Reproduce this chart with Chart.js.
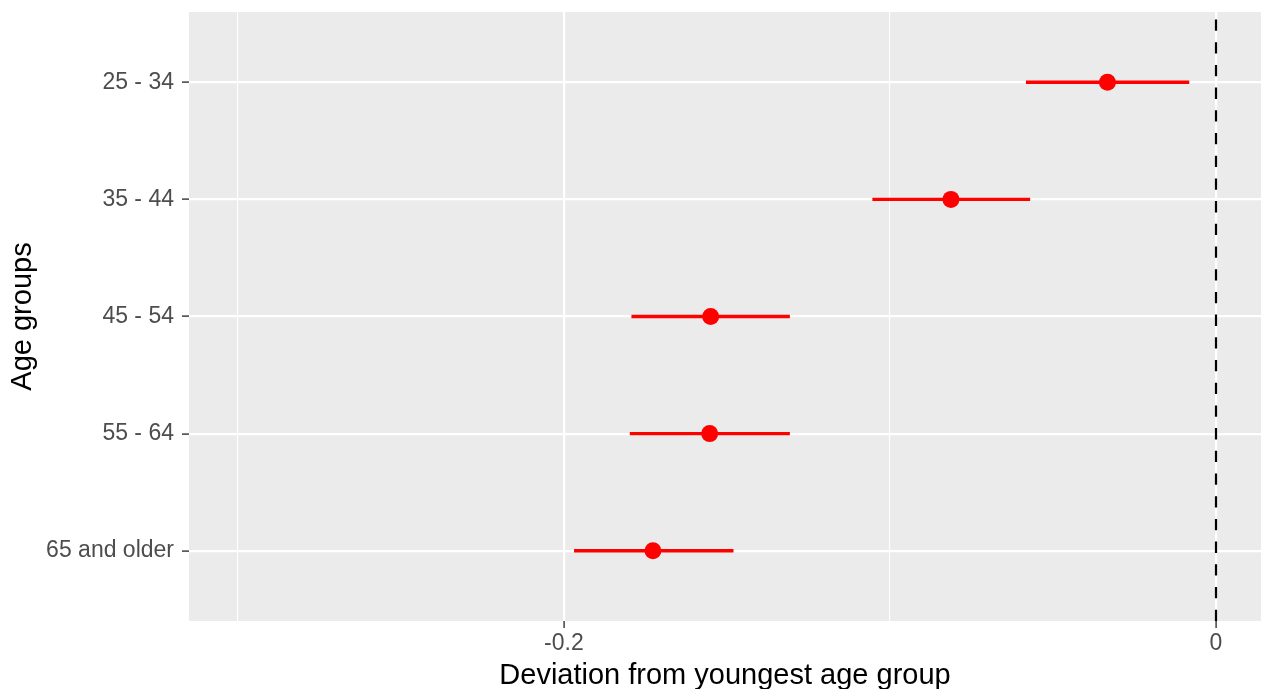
<!DOCTYPE html>
<html>
<head>
<meta charset="utf-8">
<script src="https://cdn.jsdelivr.net/npm/chart.js@4/dist/chart.umd.min.js"></script>
<style>
  html, body { margin: 0; padding: 0; background: #ffffff; overflow: hidden; }
  canvas { display: block; }
</style>
</head>
<body>
<canvas id="chart" width="1261" height="700"></canvas>
<script>
// Age groups, top to bottom
const ageGroups = ['25 - 34', '35 - 44', '45 - 54', '55 - 64', '65 and older'];
// Point estimates and interval bounds (deviation from the youngest group)
const estimates   = [-0.0333, -0.0813, -0.1550, -0.1553, -0.1727];
const lowerBounds = [-0.0583, -0.1054, -0.1793, -0.1798, -0.1969];
const upperBounds = [-0.0082, -0.0570, -0.1307, -0.1307, -0.1480];
// X axis ticks
const xMajorTicks  = [-0.2, 0];
const xMajorLabels = ['-0.2', '0'];
const xMinorTicks  = [-0.3, -0.1];
const referenceValue = 0;

const FONT = "'Liberation Sans', Arial, Helvetica, sans-serif";
const X_MIN = -0.315, X_MAX = 0.0138;
const Y_MIN = 0.4, Y_MAX = 5.6;
const RED = '#FF0000';

const isMajorX = v => xMajorTicks.indexOf(v) >= 0;

// Grey panel behind everything
const panelBackground = {
  id: 'panelBackground',
  beforeDraw(chart) {
    const { ctx, chartArea: a } = chart;
    ctx.save();
    ctx.fillStyle = '#EBEBEB';
    ctx.fillRect(a.left, a.top, a.right - a.left, a.bottom - a.top);
    ctx.restore();
  }
};

const errorBars = ageGroups.map((g, i) => ({
  label: g + ' interval',
  data: [{ x: lowerBounds[i], y: i + 1 }, { x: upperBounds[i], y: i + 1 }],
  showLine: true,
  borderColor: RED,
  borderWidth: 3.3,
  pointRadius: 0,
  pointHoverRadius: 0,
  order: 2
}));

const referenceLine = {
  label: 'reference',
  data: [{ x: referenceValue, y: Y_MAX }, { x: referenceValue, y: Y_MIN }],
  showLine: true,
  borderColor: '#000000',
  borderWidth: 2.2,
  borderDash: [11.3, 11.4],
  pointRadius: 0,
  pointHoverRadius: 0,
  order: 3
};

const pointEstimates = {
  label: 'estimate',
  data: estimates.map((v, i) => ({ x: v, y: i + 1 })),
  backgroundColor: RED,
  borderWidth: 0,
  pointRadius: 8.5,
  pointHoverRadius: 8.5,
  order: 1
};

function zeroPadding(scale) {
  scale.paddingTop = 0; scale.paddingBottom = 0;
  scale.paddingLeft = 0; scale.paddingRight = 0;
}

new Chart(document.getElementById('chart'), {
  type: 'scatter',
  data: { datasets: [referenceLine, ...errorBars, pointEstimates] },
  plugins: [panelBackground],
  options: {
    responsive: false,
    animation: false,
    devicePixelRatio: 1,
    layout: { autoPadding: false, padding: { left: 0, right: 0, top: 12, bottom: 0 } },
    plugins: { legend: { display: false }, tooltip: { enabled: false } },
    scales: {
      x: {
        type: 'linear',
        min: X_MIN,
        max: X_MAX,
        afterBuildTicks(scale) {
          scale.ticks = [...xMinorTicks, ...xMajorTicks].sort((a, b) => a - b).map(v => ({ value: v }));
        },
        afterFit(scale) { scale.height = 79; zeroPadding(scale); },
        border: { display: false },
        grid: {
          color: '#FFFFFF',
          lineWidth: ctx => (ctx.tick && isMajorX(ctx.tick.value)) ? 2.2 : 1.1,
          tickColor: ctx => (ctx.tick && isMajorX(ctx.tick.value)) ? '#333333' : 'rgba(0,0,0,0)',
          tickLength: 7,
          tickWidth: 1.4
        },
        ticks: {
          autoSkip: false,
          maxRotation: 0,
          padding: 2,
          color: '#4D4D4D',
          font: { family: FONT, size: 23 },
          callback: v => { const k = xMajorTicks.indexOf(v); return k >= 0 ? xMajorLabels[k] : ''; }
        },
        title: {
          display: true,
          text: 'Deviation from youngest age group',
          color: '#000000',
          font: { family: FONT, size: 29 },
          padding: { top: 0, bottom: 6.6 }
        }
      },
      y: {
        type: 'linear',
        reverse: true,
        min: Y_MIN,
        max: Y_MAX,
        afterBuildTicks(scale) {
          scale.ticks = ageGroups.map((g, i) => ({ value: i + 1 }));
        },
        afterFit(scale) { scale.width = 189; zeroPadding(scale); },
        border: { display: false },
        grid: {
          color: '#FFFFFF',
          lineWidth: 2.2,
          tickColor: '#333333',
          tickLength: 7,
          tickWidth: 1.4
        },
        ticks: {
          autoSkip: false,
          padding: 8,
          color: '#4D4D4D',
          font: { family: FONT, size: 23 },
          callback: v => ageGroups[v - 1]
        },
        title: {
          display: true,
          text: 'Age groups',
          color: '#000000',
          font: { family: FONT, size: 29 },
          padding: { top: 6, bottom: 0 }
        }
      }
    }
  }
});
</script>
</body>
</html>
